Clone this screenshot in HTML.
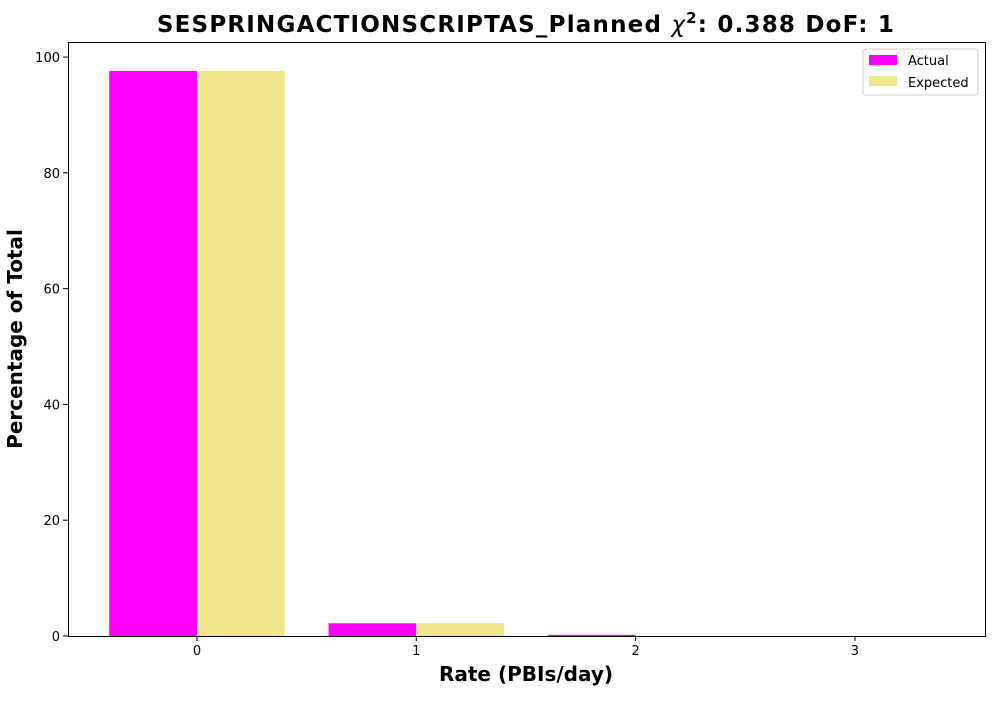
<!DOCTYPE html>
<html><head><meta charset="utf-8"><style>
body{margin:0;background:#fff;font-family:"Liberation Sans","DejaVu Sans",sans-serif;}
svg text{font-family:"DejaVu Sans","Liberation Sans",sans-serif;}
</style></head><body>
<svg id="chart" width="1000" height="700" xmlns="http://www.w3.org/2000/svg">
<text x="526" y="32" text-anchor="middle" font-size="23" font-weight="bold" letter-spacing="1.2">SESPRINGACTIONSCRIPTAS_Planned <tspan font-style="italic" font-weight="normal">χ</tspan><tspan dy="-9" font-size="15">2</tspan><tspan dy="9">: 0.388 DoF: 1</tspan></text>
<text x="526" y="681" text-anchor="middle" font-size="20" font-weight="bold">Rate (PBIs/day)</text>
<text transform="translate(22,339) rotate(-90)" text-anchor="middle" font-size="20" font-weight="bold">Percentage of Total</text>
<g id="bars"></g>
<g id="axes"></g>
<g>
<rect x="863" y="49" width="115" height="46" fill="#fff" stroke="#ccc" rx="3"/>
<rect x="869" y="55" width="28" height="10" fill="#ff00ff"/>
<text x="908" y="65" font-size="13">Actual</text>
<rect x="869" y="76" width="28" height="10" fill="#f0e68c"/>
<text x="908" y="87" font-size="13">Expected</text>
</g>
</svg>
<script>
const categories=[0,1,2,3];
const actual=[97.6,2.2,0.2,0];
const expected=[97.6,2.2,0.02,0];
const yTicks=[0,20,40,60,80,100];
const L=68,R=985,T=42,B=636;
const xmin=-0.588,xmax=3.593,ymax=102.6;
const xs=v=>L+(v-xmin)/(xmax-xmin)*(R-L);
const ys=v=>B-v/ymax*(B-T);
const NS="http://www.w3.org/2000/svg";
const bars=document.getElementById('bars'),axes=document.getElementById('axes');
function mk(tag,attrs,parent){const e=document.createElementNS(NS,tag);for(const k in attrs)e.setAttribute(k,attrs[k]);parent.appendChild(e);return e;}
categories.forEach((c,i)=>{
 const a=mk('rect',{x:xs(c-0.4),y:ys(actual[i]),width:xs(0.4)-xs(0),height:B-ys(actual[i]),fill:'#ff00ff'},bars);
 
 
 const e=mk('rect',{x:xs(c),y:ys(expected[i]),width:xs(0.4)-xs(0),height:B-ys(expected[i]),fill:'#f0e68c'},bars);
 
 
 mk('line',{x1:xs(c),x2:xs(c),y1:B,y2:B+5,stroke:'#000'},axes);
 const t=mk('text',{x:xs(c),y:B+19,'text-anchor':'middle','font-size':13},axes);
 t.textContent=c;
 
 
});
yTicks.forEach(v=>{
 mk('line',{x1:L-5,x2:L,y1:ys(v),y2:ys(v),stroke:'#000'},axes);
 const t=mk('text',{x:L-8,y:ys(v)+5,'text-anchor':'end','font-size':13},axes);
 t.textContent=v;
 
 
});
const f=mk('rect',{x:L+0.5,y:T+0.5,width:R-L,height:B-T,fill:'none',stroke:'#000','stroke-width':1},axes);


</script>
</body></html>
